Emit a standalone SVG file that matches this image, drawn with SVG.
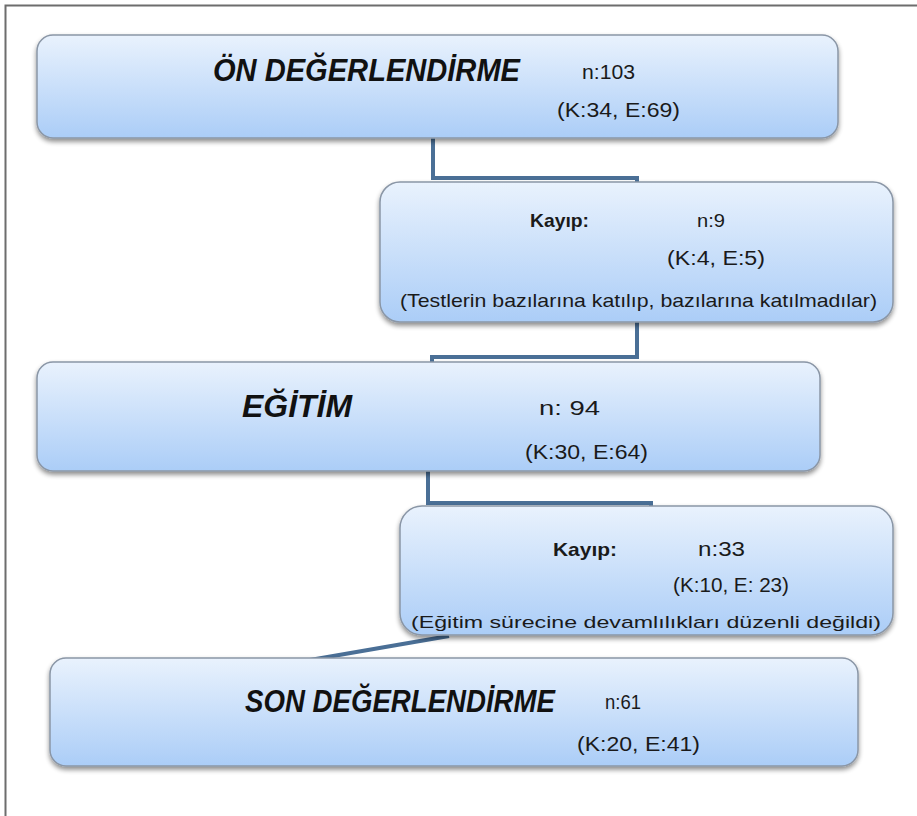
<svg xmlns="http://www.w3.org/2000/svg" width="917" height="816" viewBox="0 0 917 816">
  <defs>
    <linearGradient id="boxFill" x1="0" y1="0" x2="0" y2="1">
      <stop offset="0" stop-color="#e9f2fd"/>
      <stop offset="1" stop-color="#abcdf7"/>
    </linearGradient>
    <filter id="shadow" x="-5%" y="-10%" width="110%" height="130%">
      <feGaussianBlur in="SourceAlpha" stdDeviation="2.5"/>
      <feOffset dx="0" dy="3" result="b"/>
      <feComponentTransfer><feFuncA type="linear" slope="0.45"/></feComponentTransfer>
      <feMerge><feMergeNode/><feMergeNode in="SourceGraphic"/></feMerge>
    </filter>
  </defs>
  <style>
    .box { fill: url(#boxFill); stroke: #8a96a6; stroke-width: 1.5; filter: url(#shadow); }
    .title { font-family: "Liberation Sans", Arial, sans-serif; font-weight: bold; font-style: italic; fill: #111; }
    .t { font-family: "Liberation Sans", Arial, sans-serif; fill: #1a1a1a; }
    .b { font-weight: bold; }
    .conn { fill: none; stroke: #4a6f96; stroke-width: 4; stroke-linejoin: miter; }
  </style>
  <rect x="0" y="0" width="917" height="816" fill="#ffffff"/>
  <path d="M5.5 816 V5.5 H917" fill="none" stroke="#6d6d6d" stroke-width="2"/>

  <g id="connectors">
    <path class="conn" d="M433 138 V178 H637 V184"/>
    <path class="conn" d="M637 322 V357 H432 V363"/>
    <path class="conn" d="M428 471 V503 H651 V508"/>
    <path class="conn" d="M449 636 L310 660"/>
  </g>

  <g id="on-degerlendirme">
    <rect class="box" x="37" y="35" width="801" height="103" rx="16"/>
    <text class="title" x="213" y="81" font-size="32" textLength="307" lengthAdjust="spacingAndGlyphs">ÖN DEĞERLENDİRME</text>
    <text class="t" x="582" y="79" font-size="20" textLength="53" lengthAdjust="spacingAndGlyphs">n:103</text>
    <text class="t" x="557" y="117" font-size="21" textLength="123" lengthAdjust="spacingAndGlyphs">(K:34, E:69)</text>
  </g>

  <g id="kayip-1">
    <rect class="box" x="380" y="182" width="513" height="140" rx="20"/>
    <text class="t b" x="530" y="227" font-size="19" textLength="59" lengthAdjust="spacingAndGlyphs">Kayıp:</text>
    <text class="t" x="697" y="227" font-size="19" textLength="28" lengthAdjust="spacingAndGlyphs">n:9</text>
    <text class="t" x="667" y="265" font-size="20" textLength="98" lengthAdjust="spacingAndGlyphs">(K:4, E:5)</text>
    <text class="t" x="400" y="307" font-size="19" textLength="477" lengthAdjust="spacingAndGlyphs">(Testlerin bazılarına katılıp, bazılarına katılmadılar)</text>
  </g>

  <g id="egitim">
    <rect class="box" x="37" y="362" width="783" height="109" rx="16"/>
    <text class="title" x="242" y="417" font-size="32" textLength="110" lengthAdjust="spacingAndGlyphs">EĞİTİM</text>
    <text class="t" x="539" y="415" font-size="21" textLength="61" lengthAdjust="spacingAndGlyphs">n: 94</text>
    <text class="t" x="525" y="459" font-size="21" textLength="123" lengthAdjust="spacingAndGlyphs">(K:30, E:64)</text>
  </g>

  <g id="kayip-2">
    <rect class="box" x="400" y="506" width="493" height="129" rx="22"/>
    <text class="t b" x="553" y="556" font-size="19" textLength="64" lengthAdjust="spacingAndGlyphs">Kayıp:</text>
    <text class="t" x="698" y="556" font-size="20" textLength="47" lengthAdjust="spacingAndGlyphs">n:33</text>
    <text class="t" x="673" y="592" font-size="20" textLength="116" lengthAdjust="spacingAndGlyphs">(K:10, E: 23)</text>
    <text class="t" x="411" y="628" font-size="17" textLength="470" lengthAdjust="spacingAndGlyphs">(Eğitim sürecine devamlılıkları düzenli değildi)</text>
  </g>

  <g id="son-degerlendirme">
    <rect class="box" x="50" y="658" width="808" height="108" rx="16"/>
    <text class="title" x="245" y="712" font-size="32" textLength="310" lengthAdjust="spacingAndGlyphs">SON DEĞERLENDİRME</text>
    <text class="t" x="605" y="709" font-size="20" textLength="36" lengthAdjust="spacingAndGlyphs">n:61</text>
    <text class="t" x="577" y="751" font-size="21" textLength="123" lengthAdjust="spacingAndGlyphs">(K:20, E:41)</text>
  </g>
</svg>
